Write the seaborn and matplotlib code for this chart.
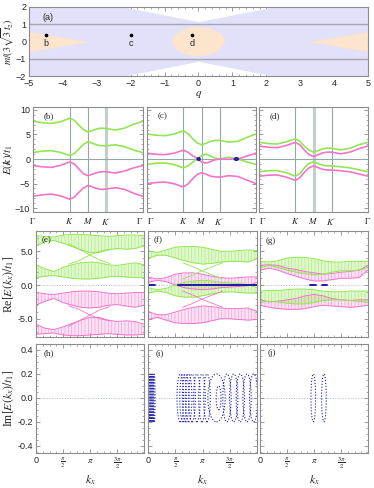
import numpy as np
import seaborn as sns
import matplotlib.pyplot as plt
from matplotlib.patches import Ellipse

sns.set_theme(style='ticks')
plt.rcParams['font.family'] = ['Liberation Sans', 'DejaVu Sans']
plt.rcParams['mathtext.fontset'] = 'stix'
plt.rcParams['hatch.linewidth'] = 0.4

GREEN = '#93E653'
PINK = '#F275C9'
BLUE = '#1C1CA8'
GRID = '#93A8A4'
LAV = '#E1E1FA'
PEACH = '#FDE4CD'

# ---- panel (a): phase diagram ----
q_edge = [-5, -2.2, 0, 2.2, 5]
m_edge = [2.0, 2.0, 1.15, 2.0, 2.0]
q_tri_left = [-5, -3.25]
m_tri_left = [0.58, 0.0]
q_tri_right = [3.25, 5]
m_tri_right = [0.0, 0.58]
ell_center = (0.0, 0.0)
ell_size = (1.55, 1.7)
pt_q = [-4.5, -2.0, -0.2]
pt_m = [0.35, 0.35, 0.35]
pt_lab = ['b', 'c', 'd']

# ---- row 2: bulk bands along Gamma-K-M-K'-Gamma ----
kpath = [0, 0.25, 0.5, 0.75, 1.0, 1.125, 1.25, 1.375, 1.5, 1.625, 1.75, 1.875, 2.0, 2.25, 2.5, 2.75, 3.0]
kpath_ticks = [0, 1, 1.5, 2, 3]
kpath_labels = [r'$\Gamma$', r'$K$', r'$M$', r"$K'$", r'$\Gamma$']

b_green_hi = [7.7, 7.4, 7.25, 7.6, 8.3, 7.9, 6.9, 6.0, 5.5, 5.8, 6.15, 6.3, 6.2, 5.9, 6.3, 7.1, 7.7]
b_green_lo = [1.3, 1.6, 1.7, 1.35, 0.7, 1.1, 2.0, 3.0, 3.5, 3.2, 2.85, 2.7, 2.7, 2.9, 2.5, 1.8, 1.3]
b_pink_hi = [-1.3, -1.6, -1.7, -1.3, -0.6, -1.0, -2.0, -3.0, -3.4, -3.1, -2.75, -2.6, -2.6, -2.85, -2.45, -1.8, -1.3]
b_pink_lo = [-7.6, -7.3, -7.15, -7.5, -8.2, -7.8, -6.8, -5.9, -5.4, -5.7, -6.05, -6.2, -6.1, -5.85, -6.2, -7.0, -7.6]

c_green_hi = [5.1, 4.85, 4.75, 5.1, 5.75, 5.2, 4.2, 3.3, 2.9, 3.2, 3.6, 3.8, 3.8, 3.45, 3.6, 4.4, 5.1]
c_pink_hi = [1.2, 0.95, 0.9, 1.2, 1.8, 1.4, 0.7, 0.15, -0.6, -0.85, -0.5, -0.15, 0.0, -0.05, 0.0, 0.6, 1.2]
c_green_lo = [-1.1, -0.85, -0.8, -1.15, -1.8, -1.4, -0.7, -0.05, 0.7, 1.0, 0.6, 0.2, 0.0, 0.35, 0.0, -0.6, -1.1]
c_pink_lo = [-5.0, -4.8, -4.7, -5.05, -5.7, -5.1, -4.1, -3.2, -2.8, -3.1, -3.5, -3.65, -3.7, -3.4, -3.55, -4.3, -5.0]
c_ep_k = [1.42, 2.46]
c_ep_w = [0.07, 0.1]

d_green_hi = [3.4, 3.15, 3.05, 3.5, 4.1, 3.6, 2.6, 1.8, 1.4, 1.7, 2.1, 2.2, 2.2, 1.85, 2.2, 2.9, 3.4]
d_pink_hi = [2.65, 2.4, 2.3, 2.75, 3.4, 2.9, 1.8, 0.9, 0.5, 0.85, 1.25, 1.4, 1.4, 1.05, 1.4, 2.1, 2.65]
d_green_lo = [-2.6, -2.4, -2.35, -2.8, -3.5, -3.0, -1.8, -0.9, -0.6, -0.9, -1.25, -1.4, -1.4, -1.6, -1.8, -2.2, -2.6]
d_pink_lo = [-3.5, -3.3, -3.25, -3.7, -4.35, -3.8, -2.7, -1.8, -1.4, -1.75, -2.1, -2.25, -2.25, -2.4, -2.6, -3.05, -3.5]

# ---- row 3: ribbon spectra Re E(kx) (upper / lower envelope) ----
kx_grid = np.array([0, 1, 2, 3, 4, 5, 6, 7, 8, 9, 10, 11, 12]) * np.pi / 6

e_g1_top = [7.3, 7.2, 7.1, 7.4, 7.5, 7.5, 7.4, 7.3, 7.2, 7.3, 7.4, 7.4, 7.3]
e_g1_bot = [5.8, 6.4, 6.6, 6.2, 5.7, 5.2, 4.8, 4.8, 5.2, 5.4, 5.3, 5.4, 5.8]
e_g2_top = [3.0, 2.4, 2.0, 2.6, 3.0, 3.3, 3.4, 3.3, 3.0, 2.9, 3.1, 3.3, 3.0]
e_g2_bot = [1.1, 1.3, 1.4, 1.2, 1.0, 0.9, 0.9, 1.0, 1.2, 1.3, 1.2, 1.1, 1.1]
e_p1_top = [-1.1, -1.3, -1.4, -1.2, -1.0, -0.9, -0.9, -1.0, -1.2, -1.3, -1.2, -1.1, -1.1]
e_p1_bot = [-3.0, -2.4, -2.0, -2.6, -3.0, -3.3, -3.4, -3.3, -3.0, -2.9, -3.1, -3.3, -3.0]
e_p2_top = [-5.8, -6.4, -6.6, -6.2, -5.7, -5.2, -4.8, -4.8, -5.2, -5.4, -5.3, -5.4, -5.8]
e_p2_bot = [-7.3, -7.2, -7.1, -7.4, -7.5, -7.5, -7.4, -7.3, -7.2, -7.3, -7.4, -7.4, -7.3]
e_edge_k = [1.9, 2.5, 3.1, 3.7, 4.3]
e_edge_g1 = [3.1, 3.6, 4.4, 5.0, 5.3]
e_edge_g2 = [6.1, 5.3, 4.5, 3.7, 3.2]
e_edge_p1 = [-3.1, -3.6, -4.4, -5.0, -5.3]
e_edge_p2 = [-6.1, -5.3, -4.5, -3.7, -3.2]

f_g1_top = [5.1, 4.8, 5.2, 5.6, 5.7, 5.7, 5.6, 5.3, 5.0, 5.0, 5.1, 5.2, 5.1]
f_g1_bot = [3.9, 4.4, 4.4, 4.0, 3.6, 3.3, 3.1, 3.2, 3.4, 3.5, 3.5, 3.4, 3.9]
f_p1_top = [1.2, 0.9, 1.1, 1.6, 1.8, 1.8, 1.6, 1.3, 1.1, 1.0, 1.1, 1.2, 1.2]
f_p1_bot = [0.4, 0.7, 0.5, 0.0, -0.4, -0.6, -0.7, -0.6, -0.4, -0.3, -0.2, -0.1, 0.4]
f_g2_top = [-0.4, -0.7, -0.5, 0.0, 0.4, 0.6, 0.7, 0.6, 0.4, 0.3, 0.2, 0.1, -0.4]
f_g2_bot = [-1.2, -0.9, -1.1, -1.6, -1.8, -1.8, -1.6, -1.3, -1.1, -1.0, -1.1, -1.2, -1.2]
f_p2_top = [-3.9, -4.4, -4.4, -4.0, -3.6, -3.3, -3.1, -3.2, -3.4, -3.5, -3.5, -3.4, -3.9]
f_p2_bot = [-5.1, -4.8, -5.2, -5.6, -5.7, -5.7, -5.6, -5.3, -5.0, -5.0, -5.1, -5.2, -5.1]
f_edge_k = [2.0, 2.6, 3.1, 3.7, 4.3]
f_edge_g1 = [3.3, 2.7, 2.1, 1.5, 0.9]
f_edge_g2 = [0.9, 1.5, 2.1, 2.7, 3.3]
f_edge_p1 = [-3.3, -2.7, -2.1, -1.5, -0.9]
f_edge_p2 = [-0.9, -1.5, -2.1, -2.7, -3.3]
f_zero_k = [[0, 0.4], [1.75, 2 * np.pi]]

g_g1_top = [3.5, 3.4, 3.6, 4.0, 4.1, 4.1, 3.9, 3.6, 3.4, 3.4, 3.5, 3.5, 3.5]
g_g1_bot = [2.6, 2.9, 2.6, 2.2, 1.9, 1.7, 1.5, 1.6, 1.9, 2.1, 2.1, 2.2, 2.6]
g_p1_top = [2.9, 3.0, 2.9, 2.5, 2.3, 2.0, 1.8, 1.6, 1.7, 1.9, 2.0, 2.2, 2.9]
g_p1_bot = [2.2, 2.5, 2.2, 1.7, 1.3, 0.9, 0.6, 0.6, 0.8, 1.0, 1.0, 1.1, 2.2]
g_g2_top = [-0.9, -0.8, -0.8, -0.7, -0.6, -0.6, -0.7, -0.9, -1.0, -1.0, -0.9, -0.9, -0.9]
g_g2_bot = [-2.6, -2.4, -2.5, -2.7, -2.8, -2.8, -2.6, -2.3, -2.2, -2.2, -2.3, -2.4, -2.6]
g_p2_top = [-2.2, -2.5, -2.4, -2.2, -2.0, -1.6, -1.4, -1.6, -2.0, -2.2, -2.3, -2.2, -2.2]
g_p2_bot = [-3.0, -3.3, -3.5, -3.6, -3.6, -3.5, -3.2, -3.0, -3.1, -3.2, -3.3, -3.2, -3.0]
g_zero_k = [[2.92, 3.28], [3.58, 3.92]]

# ---- row 4: Im E(kx) loops ----
i_loop_k = [0.06, 0.12, 0.18, 0.24, 0.30, 0.36,
            1.86, 2.02, 2.17, 2.34, 2.54, 2.82, 3.11, 3.40, 3.95, 4.07,
            4.55, 4.94, 5.32, 5.71, 6.09]
i_loop_w = [0.1, 0.1, 0.1, 0.1, 0.1, 0.1,
            0.38, 0.38, 0.38, 0.38, 0.38, 0.38, 0.38, 0.38, 1.0, 0.28,
            0.48, 0.48, 0.48, 0.48, 0.48]
i_loop_h = [0.4] * 15 + [0.2] + [0.4] * 5
j_loop_k = [3.1, 3.72]
j_loop_w = [0.27, 0.27]
j_loop_h = [0.4, 0.4]

W, H = 374, 488
fig = plt.figure(figsize=(W / 100, H / 100), dpi=100)


def rect(x0, y0, x1, y1):
    return [x0 / W, 1 - y1 / H, (x1 - x0) / W, (y1 - y0) / H]


def frame(ax):
    for s in ax.spines.values():
        s.set_color('#8c8c8c')
        s.set_linewidth(0.8)
    ax.tick_params(which='both', direction='in', top=True, right=True,
                   color='#8c8c8c', labelsize=6.5, pad=2)
    ax.tick_params(which='major', length=3, width=0.6)
    ax.tick_params(which='minor', length=1.6, width=0.5)


def plabel(ax, s, x=0.1, y=0.9, fam='Liberation Serif'):
    ax.text(x, y, s, transform=ax.transAxes, fontsize=6.5, family=fam,
            ha='left', va='center', zorder=10)


# panel (a)
ax = fig.add_axes(rect(29, 7, 368, 76))
ax.fill_between(q_edge, [-v for v in m_edge], m_edge, color=LAV, lw=0)
ax.fill_between(q_tri_left, [-v for v in m_tri_left], m_tri_left, color=PEACH, lw=0)
ax.fill_between(q_tri_right, [-v for v in m_tri_right], m_tri_right, color=PEACH, lw=0)
ax.add_patch(Ellipse(ell_center, ell_size[0], ell_size[1], color=PEACH, lw=0))
ax.axhline(1, color='#A4A4B4', lw=1.0)
ax.axhline(-1, color='#A4A4B4', lw=1.0)
sns.scatterplot(x=pt_q, y=pt_m, ax=ax, color='black', s=7, linewidth=0, zorder=5)
for q, m, t in zip(pt_q, pt_m, pt_lab):
    ax.text(q, m - 0.45, t, fontsize=6.5, ha='center', va='center')
ax.set_xlim(-5, 5)
ax.set_ylim(-2, 2)
ax.set_xticks(range(-5, 6))
ax.set_yticks([-2, -1, 0, 1, 2])
ax.set_xticks(np.arange(-5, 5.01, 0.2), minor=True)
ax.set_yticks(np.arange(-2, 2.01, 0.2), minor=True)
frame(ax)
ax.set_xlabel(r'$q$', fontsize=8, labelpad=1)
ax.set_ylabel(r'$m/(3\sqrt{3}t_2)$', fontsize=7.2, labelpad=0)
plabel(ax, '(a)', x=0.04, y=0.85, fam='Liberation Sans')

# row 2
row2 = [
    ('(b)', 33, 143, [b_green_hi, b_green_lo], [b_pink_hi, b_pink_lo], 2),
    ('(c)', 147, 256, [c_green_hi, c_green_lo], [c_pink_hi, c_pink_lo], None),
    ('(d)', 259, 368, [d_green_hi, d_green_lo], [d_pink_hi, d_pink_lo], 1.5),
]
for n, (lab, x0, x1, greens, pinks, thick) in enumerate(row2):
    ax = fig.add_axes(rect(x0, 107, x1, 212))
    for xv in [1, 1.5, 2]:
        ax.axvline(xv, color=GRID, lw=2.2 if xv == thick else 0.8,
                   alpha=0.55 if xv == thick else 1, zorder=1)
    ax.axhline(0, color=GRID, lw=0.8, zorder=1)
    for band in greens:
        sns.lineplot(x=kpath, y=band, ax=ax, color=GREEN, lw=1.2, sort=False, estimator=None)
    for band in pinks:
        sns.lineplot(x=kpath, y=band, ax=ax, color=PINK, lw=1.2, sort=False, estimator=None)
    if lab == '(c)':
        for k0, w0 in zip(c_ep_k, c_ep_w):
            ax.add_patch(Ellipse((k0, 0), w0, 0.45, fill=False, ec=BLUE, lw=1.3, zorder=6))
    ax.set_xlim(0, 3)
    ax.set_ylim(-10.8, 10.6)
    ax.set_xticks(kpath_ticks)
    ax.set_xticklabels(kpath_labels, fontsize=7)
    ticklabs = ax.get_xticklabels()
    if n > 0:
        ticklabs[0].set_horizontalalignment('left')
    if n < 2:
        ticklabs[-1].set_horizontalalignment('right')
    ax.set_yticks([-10, -5, 0, 5, 10])
    ax.set_yticks(np.arange(-10, 10.1, 1), minor=True)
    frame(ax)
    ax.tick_params(axis='x', which='major', length=0, pad=3)
    if n == 0:
        ax.set_ylabel(r'$E(\boldsymbol{k})/t_1$', fontsize=8, labelpad=0)
    else:
        ax.set_yticklabels([])
    plabel(ax, lab, x=0.1, y=0.91)


def ribbon(ax, top, bot, color, alpha):
    ax.fill_between(kx_grid, bot, top, facecolor=color, alpha=alpha, lw=0)
    ax.fill_between(kx_grid, bot, top, facecolor='none', edgecolor=color,
                    hatch='|||||', lw=0, alpha=0.7)
    sns.lineplot(x=kx_grid, y=top, ax=ax, color=color, lw=0.7, sort=False, estimator=None)
    sns.lineplot(x=kx_grid, y=bot, ax=ax, color=color, lw=0.7, sort=False, estimator=None)


def kx_axis(ax, labels):
    ax.set_xlim(0, 2 * np.pi)
    ax.set_xticks([0, np.pi / 2, np.pi, 3 * np.pi / 2])
    ax.set_xticks(np.arange(0, 2 * np.pi + 0.01, np.pi / 8), minor=True)
    if labels:
        ax.set_xticklabels(['0', r'$\frac{\pi}{2}$', r'$\pi$', r'$\frac{3\pi}{2}$'], fontsize=7)
        ax.set_xlabel(r'$k_x$', fontsize=8.5, labelpad=2)
    else:
        ax.set_xticklabels([])


# row 3
row3 = [
    ('(e)', 36, 144, [(e_g1_top, e_g1_bot), (e_g2_top, e_g2_bot)],
     [(e_p1_top, e_p1_bot), (e_p2_top, e_p2_bot)],
     e_edge_k, [e_edge_g1, e_edge_g2], [e_edge_p1, e_edge_p2], []),
    ('(f)', 148, 257, [(f_g1_top, f_g1_bot), (f_g2_top, f_g2_bot)],
     [(f_p1_top, f_p1_bot), (f_p2_top, f_p2_bot)],
     f_edge_k, [f_edge_g1, f_edge_g2], [f_edge_p1, f_edge_p2], f_zero_k),
    ('(g)', 260, 368, [(g_g1_top, g_g1_bot), (g_g2_top, g_g2_bot)],
     [(g_p1_top, g_p1_bot), (g_p2_top, g_p2_bot)],
     None, [], [], g_zero_k),
]
for n, (lab, x0, x1, gr, pk, ek, eg, ep, zk) in enumerate(row3):
    ax = fig.add_axes(rect(x0, 231, x1, 337))
    ax.axhline(0, color='#A8B8C8', lw=0.7, ls=':', zorder=0)
    for top, bot in pk:
        ribbon(ax, top, bot, PINK, 0.22)
    for top, bot in gr:
        ribbon(ax, top, bot, GREEN, 0.3)
    for line in eg:
        sns.lineplot(x=ek, y=line, ax=ax, color=GREEN, lw=0.6, sort=False, estimator=None)
    for line in ep:
        sns.lineplot(x=ek, y=line, ax=ax, color=PINK, lw=0.6, sort=False, estimator=None)
    for seg in zk:
        sns.lineplot(x=seg, y=[0, 0], ax=ax, color=BLUE, lw=1.4, sort=False, estimator=None)
    kx_axis(ax, False)
    ax.set_ylim(-7.7, 8.0)
    ax.set_yticks([-5, 0, 5])
    ax.set_yticks(np.arange(-7, 8, 1), minor=True)
    frame(ax)
    if n == 0:
        ax.set_yticklabels(['-5.0', '0.0', '5.0'])
        ax.set_ylabel(r'Re$[E(k_x)/t_1]$', fontsize=8.5, family='Liberation Serif', labelpad=1)
    else:
        ax.set_yticklabels([])
    plabel(ax, lab, x=0.05, y=0.91)

# row 4
row4 = [('(h)', 36, 144, [], [], []),
        ('(i)', 148, 257, i_loop_k, i_loop_w, i_loop_h),
        ('(j)', 260, 368, j_loop_k, j_loop_w, j_loop_h)]
for n, (lab, x0, x1, lk, lw_, lh) in enumerate(row4):
    ax = fig.add_axes(rect(x0, 344, x1, 453))
    ax.axhline(0, color='#A8B8C8', lw=0.7, ls=':', zorder=0)
    for k0, w0, h0 in zip(lk, lw_, lh):
        ax.add_patch(Ellipse((k0, 0), w0, h0, fill=False, ec=BLUE, lw=0.8, ls=':'))
    kx_axis(ax, True)
    ax.set_ylim(-0.46, 0.45)
    ax.set_yticks([-0.4, -0.2, 0, 0.2, 0.4])
    ax.set_yticks(np.arange(-0.45, 0.46, 0.05), minor=True)
    frame(ax)
    if n == 0:
        ax.set_yticklabels(['-0.4', '-0.2', '0.0', '0.2', '0.4'])
        ax.set_ylabel(r'Im$[E(k_x)/t_1]$', fontsize=8.5, family='Liberation Serif', labelpad=1)
    else:
        ax.set_yticklabels([])
    plabel(ax, lab, x=0.07, y=0.92)

fig.savefig('out.png', dpi=100)
